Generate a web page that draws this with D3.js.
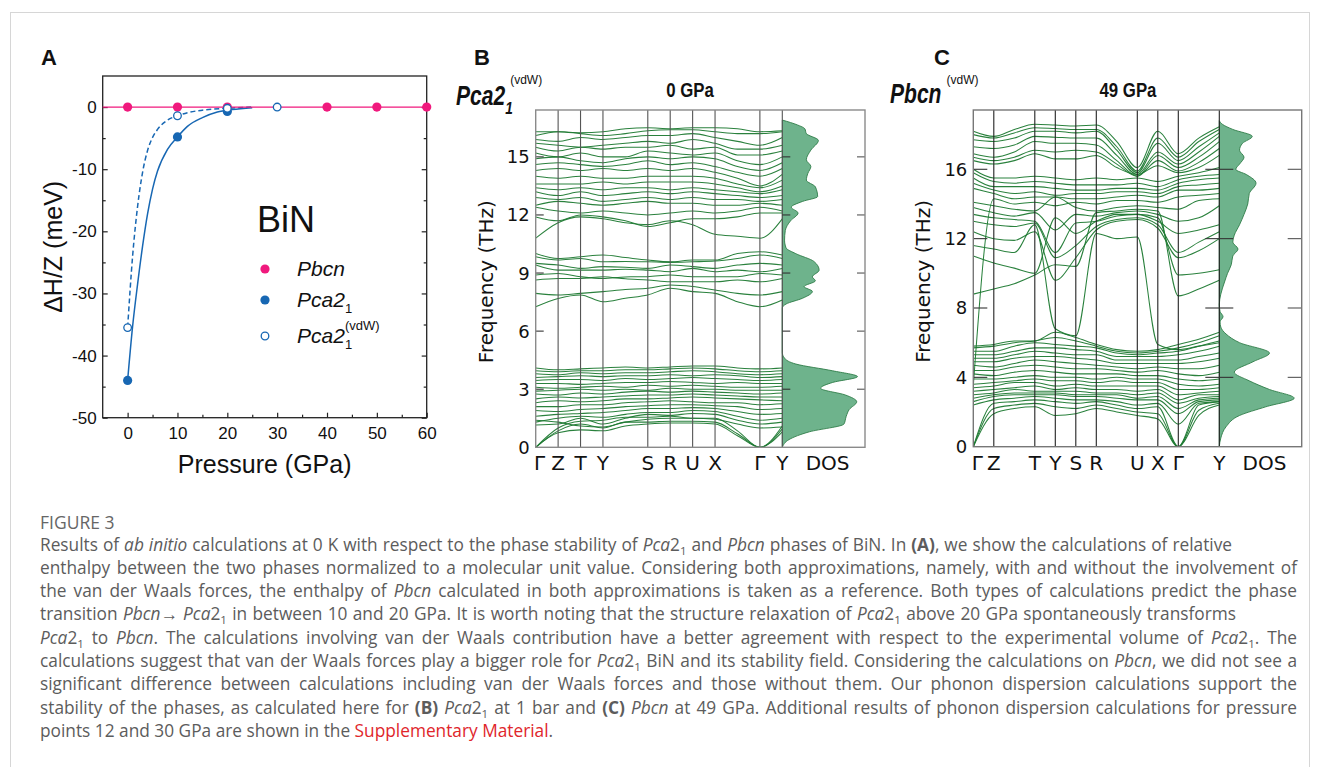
<!DOCTYPE html>
<html>
<head>
<meta charset="utf-8">
<script src="https://cdn.jsdelivr.net/npm/d3@7"></script>
<style>
  body { margin: 0; background: #fff; }
  svg { display: block; }
</style>
</head>
<body>
<div id="fig"></div>
<script>
// ---------- panel A data ----------
var pbcnP = [0, 10, 20, 40, 50, 60];
var pbcnH = [0, 0, 0, 0, 0, 0];
var pbcnLineP = [-5, 60];
var pbcnLineH = [0, 0];
var pcaP = [0, 10, 20];
var pcaH = [-44, -4.8, -0.7];
var vdwP = [0, 10, 20, 30];
var vdwH = [-35.5, -1.4, -0.2, 0];
// fitted curves as drawn in the figure
var fitPcaP = [0, 1, 2, 3, 4, 5, 6, 8, 10, 12, 15, 18, 21, 25];
var fitPcaH = [-44, -35.3, -28.5, -22.4, -17.2, -13.2, -10.3, -6.8, -4.8, -3.1, -1.7, -0.8, -0.4, -0.1];
var fitVdwP = [0, 1, 2, 3, 4, 5, 6, 8, 10, 12, 15, 20, 25];
var fitVdwH = [-35.5, -24, -16, -10.5, -7, -4.9, -3.6, -2.1, -1.4, -0.9, -0.5, -0.2, 0];
var xTicksA = [0, 10, 20, 30, 40, 50, 60];
var yTicksA = [0, -10, -20, -30, -40, -50];

// ---------- panel B data: Pca2_1 (vdW), 0 GPa ----------
var kLabB = ["\u0393", "Z", "T", "Y", "S", "R", "U", "X", "\u0393", "Y"];
var kPosB = [0, 1, 2, 3, 5, 6, 7, 8, 10, 11];
var kSampB = [0, 1, 2, 3, 4, 5, 6, 7, 8, 9, 10, 11];
var bandsB = [
  // acoustic + low optical block
  [0, 0.75, 0.9, 0.85, 1.1, 1.2, 1.25, 1.25, 1.2, 0.6, 0, 0.8],
  [0, 0.85, 1.2, 1.0, 1.3, 1.3, 1.35, 1.35, 1.3, 0.7, 0, 0.95],
  [0, 1.0, 1.35, 1.4, 1.55, 1.55, 1.6, 1.5, 1.5, 0.85, 0, 1.1],
  [1.15, 1.2, 1.5, 1.2, 1.5, 1.7, 1.65, 1.75, 1.7, 1.4, 1.2, 1.3],
  [1.4, 1.3, 1.1, 1.05, 1.3, 1.45, 1.5, 1.5, 1.45, 1.2, 1.0, 1.05],
  [1.3, 1.5, 1.6, 1.55, 1.7, 1.8, 1.8, 1.9, 1.85, 1.6, 1.4, 1.5],
  [1.6, 1.7, 1.75, 1.8, 1.9, 2.0, 2.0, 2.05, 2.0, 1.85, 1.7, 1.75],
  [1.9, 1.85, 1.95, 2.0, 2.1, 2.15, 2.2, 2.2, 2.15, 2.1, 1.95, 2.0],
  [2.1, 2.1, 2.2, 2.2, 2.3, 2.35, 2.4, 2.35, 2.3, 2.3, 2.2, 2.25],
  [2.3, 2.4, 2.35, 2.4, 2.5, 2.5, 2.55, 2.6, 2.55, 2.5, 2.45, 2.4],
  [2.5, 2.6, 2.55, 2.6, 2.65, 2.7, 2.7, 2.75, 2.7, 2.65, 2.6, 2.6],
  [2.75, 2.7, 2.8, 2.75, 2.85, 2.9, 2.85, 2.9, 2.85, 2.8, 2.75, 2.8],
  [2.9, 2.95, 3.0, 2.95, 3.0, 2.95, 3.05, 3.0, 3.0, 2.95, 2.95, 2.95],
  [3.1, 3.05, 3.1, 3.15, 3.1, 3.2, 3.15, 3.2, 3.15, 3.1, 3.1, 3.15],
  [3.3, 3.3, 3.25, 3.3, 3.35, 3.35, 3.4, 3.35, 3.3, 3.35, 3.3, 3.3],
  [3.45, 3.5, 3.5, 3.45, 3.55, 3.5, 3.55, 3.6, 3.55, 3.5, 3.45, 3.5],
  [3.6, 3.65, 3.7, 3.65, 3.7, 3.7, 3.75, 3.7, 3.75, 3.7, 3.6, 3.65],
  [3.8, 3.75, 3.85, 3.8, 3.85, 3.85, 3.9, 3.95, 3.9, 3.8, 3.75, 3.8],
  [3.95, 3.9, 3.95, 3.95, 4.0, 4.0, 4.05, 4.1, 4.05, 3.95, 3.9, 3.95],
  [4.1, 4.0, 4.05, 4.1, 4.15, 4.1, 4.15, 4.2, 4.2, 4.1, 4.05, 4.1],
  // middle block
  [10.01, 9.75, 9.84, 9.93, 9.8, 9.67, 9.58, 9.67, 9.67, 10.01, 10.1, 9.93],
  [9.84, 9.67, 9.75, 9.58, 9.6, 9.58, 9.55, 9.58, 9.62, 9.75, 9.93, 9.75],
  [9.5, 9.41, 9.24, 9.33, 9.3, 9.24, 9.41, 9.33, 9.24, 9.41, 9.5, 9.41],
  [9.41, 9.15, 9.15, 9.15, 9.2, 9.15, 9.07, 9.24, 9.07, 9.15, 9.07, 9.24],
  [8.9, 8.98, 8.81, 8.72, 8.8, 8.81, 8.9, 8.81, 8.81, 8.81, 8.98, 8.9],
  [8.64, 8.72, 8.72, 8.81, 8.7, 8.64, 8.55, 8.55, 8.55, 8.64, 8.55, 8.72],
  [7.95, 7.87, 7.95, 8.04, 8.15, 8.21, 8.38, 8.3, 8.12, 7.95, 7.87, 8.04],
  [7.26, 7.69, 7.87, 7.52, 7.7, 7.87, 8.21, 8.04, 7.95, 7.52, 7.26, 7.61],
  // upper block
  [16.3, 16.3, 16.25, 16.3, 16.45, 16.5, 16.45, 16.5, 16.5, 16.45, 16.3, 16.35],
  [16.1, 16.3, 16.2, 16.1, 16.2, 16.35, 16.4, 16.4, 16.3, 16.2, 16.2, 16.3],
  [15.9, 15.8, 16.0, 15.9, 16.0, 16.1, 16.1, 16.2, 16.0, 15.8, 15.6, 16.0],
  [15.7, 15.6, 15.5, 15.6, 15.7, 15.8, 15.7, 15.9, 15.7, 15.4, 15.4, 15.6],
  [15.5, 15.3, 15.5, 15.4, 15.5, 15.5, 15.6, 15.4, 15.5, 15.1, 15.1, 15.3],
  [15.2, 15.0, 15.2, 15.0, 15.0, 15.3, 15.2, 15.1, 15.2, 14.8, 14.6, 15.0],
  [14.9, 15.0, 14.8, 14.7, 14.9, 15.0, 14.9, 15.0, 14.9, 14.5, 14.3, 14.7],
  [14.6, 14.7, 14.6, 14.5, 14.6, 14.8, 14.6, 14.7, 14.5, 14.2, 14.0, 14.4],
  [14.3, 14.4, 14.3, 14.4, 14.3, 14.4, 14.3, 14.4, 14.2, 13.9, 13.5, 14.1],
  [14.0, 13.9, 14.0, 13.9, 13.9, 14.0, 14.0, 14.0, 13.9, 13.6, 13.4, 13.8],
  [13.6, 13.6, 13.6, 13.7, 13.6, 13.7, 13.7, 13.7, 13.6, 13.4, 13.2, 13.5],
  [13.4, 13.3, 13.4, 13.3, 13.4, 13.4, 13.3, 13.4, 13.3, 13.2, 13.1, 13.3],
  [13.2, 13.0, 13.2, 13.0, 13.1, 13.2, 13.1, 13.2, 13.1, 13.0, 12.9, 13.0],
  [12.9, 12.8, 12.9, 12.7, 12.8, 12.9, 12.8, 12.9, 12.8, 12.8, 12.7, 12.8],
  [12.5, 12.7, 12.6, 12.5, 12.6, 12.7, 12.6, 12.6, 12.5, 12.5, 12.6, 12.5],
  [12.4, 12.2, 12.1, 12.2, 12.1, 12.0, 12.1, 12.2, 12.1, 12.2, 12.4, 12.2],
  [11.9, 11.7, 12.0, 11.9, 11.7, 11.4, 11.6, 11.8, 11.8, 11.9, 12.1, 12.1],
  [10.8, 11.6, 11.9, 11.8, 11.6, 11.5, 11.7, 11.5, 11.0, 10.9, 10.8, 11.8]
];
var dosFB = [0, 0.4, 0.8, 1.2, 1.6, 1.95, 2.35, 2.7, 3.05, 3.35, 3.65, 3.95, 4.3, 4.6, 4.9,
  7.2, 7.4, 7.7, 8.05, 8.3, 8.6, 8.8, 9.15, 9.6, 10.0, 10.3, 10.7, 11.2, 11.7, 12.1, 12.4,
  12.7, 12.95, 13.45, 13.8, 14.15, 14.5, 14.85, 15.35, 15.85, 16.2, 16.45, 16.65, 16.9];
var dosVB = [0, 0.09, 0.36, 0.82, 0.85, 0.89, 0.99, 0.84, 0.51, 0.67, 1.0, 0.67, 0.18, 0.03, 0,
  0, 0.05, 0.27, 0.4, 0.29, 0.44, 0.4, 0.49, 0.42, 0.18, 0.05, 0.03, 0.04, 0.11, 0.21, 0.12,
  0.27, 0.47, 0.44, 0.32, 0.34, 0.38, 0.32, 0.38, 0.48, 0.32, 0.3, 0.2, 0];
var fTicksB = [0, 3, 6, 9, 12, 15];

// ---------- panel C data: Pbcn (vdW), 49 GPa ----------
var kLabC = ["\u0393", "Z", "T", "Y", "S", "R", "U", "X", "\u0393", "Y"];
var kPosC = [0, 1, 3, 4, 5, 6, 8, 9, 10, 12];
var kSampC = [0, 1, 2, 3, 4, 5, 6, 7, 8, 9, 10, 11, 12];
var bandsC = [
  // acoustic + low optical block
  [0, 1.9, 2.2, 2.3, 1.8, 1.9, 2.2, 2.0, 1.8, 1.6, 0, 1.8, 2.4],
  [0, 2.2, 2.4, 2.5, 2.3, 2.2, 2.4, 2.2, 2.0, 1.9, 0, 2.1, 2.5],
  [0, 2.5, 2.6, 2.7, 2.6, 2.5, 2.6, 2.4, 2.2, 2.3, 0, 2.4, 2.6],
  [2.4, 2.7, 2.8, 2.9, 2.8, 2.7, 2.7, 2.6, 2.4, 2.5, 1.3, 2.5, 2.6],
  [2.6, 2.9, 3.0, 3.0, 3.0, 2.9, 2.9, 2.8, 2.7, 2.7, 1.9, 2.6, 2.7],
  [2.8, 3.0, 3.1, 3.1, 3.1, 3.0, 3.0, 3.0, 2.8, 2.9, 2.2, 2.7, 2.8],
  [3.0, 3.1, 3.3, 3.2, 3.2, 3.2, 3.1, 3.1, 3.0, 3.1, 2.5, 2.8, 2.9],
  [3.2, 3.3, 3.4, 3.5, 3.3, 3.4, 3.3, 3.3, 3.2, 3.3, 2.7, 3.0, 3.0],
  [3.4, 3.5, 3.7, 3.7, 3.5, 3.6, 3.5, 3.5, 3.5, 3.5, 3.0, 3.1, 3.2],
  [3.6, 3.7, 3.8, 3.9, 3.8, 3.8, 3.7, 3.8, 3.7, 3.7, 3.3, 3.3, 3.4],
  [3.9, 3.9, 4.0, 4.1, 4.0, 4.0, 3.9, 4.0, 3.9, 3.9, 3.6, 3.5, 3.6],
  [4.2, 4.1, 4.3, 4.4, 4.3, 4.2, 4.2, 4.2, 4.1, 4.1, 3.9, 3.8, 3.9],
  [4.4, 4.4, 4.6, 4.7, 4.6, 4.5, 4.5, 4.4, 4.3, 4.4, 4.2, 4.1, 4.3],
  [4.7, 4.6, 4.8, 5.0, 4.9, 4.8, 4.7, 4.6, 4.5, 4.6, 4.5, 4.5, 4.7],
  [4.9, 4.9, 5.1, 5.2, 5.2, 5.1, 5.0, 4.8, 4.8, 4.8, 4.8, 4.9, 5.1],
  [5.1, 5.1, 5.3, 5.5, 5.4, 5.3, 5.3, 5.0, 5.0, 5.0, 5.0, 5.2, 5.4],
  [5.3, 5.3, 5.5, 5.7, 5.7, 5.6, 5.5, 5.2, 5.2, 5.2, 5.3, 5.5, 5.8],
  [5.5, 5.5, 5.8, 6.0, 5.9, 5.8, 5.7, 5.4, 5.3, 5.4, 5.5, 5.8, 6.1],
  [5.7, 5.8, 6.0, 6.1, 6.3, 6.1, 5.8, 5.5, 5.4, 5.5, 5.7, 6.0, 6.4],
  [5.8, 5.9, 6.1, 6.1, 6.6, 6.3, 5.9, 5.6, 5.5, 5.6, 5.9, 6.2, 6.6],
  // band that dives through the gap
  [11.6, 11.4, 11.2, 12.8, 6.8, 6.4, 12.3, 12.0, 12.1, 5.9, 5.6, 5.8, 6.0],
  // upper block
  [18.2, 17.9, 18.3, 18.6, 18.55, 18.5, 18.55, 17.6, 16.1, 18.2, 16.9, 17.8, 18.45],
  [18.0, 17.8, 18.1, 18.4, 18.35, 18.3, 18.3, 17.3, 15.9, 17.8, 16.7, 17.6, 18.3],
  [17.7, 17.6, 17.8, 18.2, 18.2, 18.1, 18.2, 17.1, 15.8, 17.5, 16.5, 17.3, 18.1],
  [17.3, 17.2, 17.4, 17.9, 17.85, 17.8, 17.8, 16.8, 15.7, 17.0, 16.3, 17.0, 17.9],
  [16.9, 16.7, 17.0, 17.6, 17.5, 17.5, 17.4, 16.5, 15.6, 16.8, 16.1, 16.7, 17.6],
  [16.7, 16.5, 16.7, 17.1, 17.0, 17.1, 17.0, 16.3, 15.6, 16.5, 15.9, 16.4, 17.2],
  [16.5, 16.3, 16.5, 16.9, 16.6, 16.6, 16.8, 16.1, 15.7, 16.2, 15.8, 16.1, 16.8],
  [16.0, 15.5, 15.5, 15.6, 15.5, 15.4, 15.5, 15.4, 15.5, 15.3, 15.6, 15.8, 16.1],
  [15.8, 15.3, 15.2, 15.3, 15.2, 15.1, 15.1, 15.1, 15.2, 15.0, 15.4, 15.6, 15.7],
  [15.5, 15.0, 15.0, 15.0, 14.9, 14.8, 14.8, 14.9, 14.9, 14.8, 15.2, 15.4, 15.5],
  [15.2, 14.8, 14.6, 14.7, 14.5, 14.6, 14.6, 14.7, 14.7, 14.6, 15.0, 15.1, 15.2],
  [14.9, 14.6, 14.3, 14.4, 14.4, 14.3, 14.3, 14.4, 14.5, 14.4, 14.8, 14.8, 14.9],
  [3.5, 14.3, 14.0, 14.1, 13.9, 14.1, 14.0, 14.2, 14.2, 14.1, 14.4, 14.5, 14.6],
  [14.1, 13.9, 13.7, 13.6, 14.4, 13.8, 13.6, 13.8, 13.9, 13.8, 13.7, 14.2, 14.3],
  [13.8, 13.5, 13.3, 13.5, 12.5, 13.4, 13.3, 13.5, 13.6, 13.4, 13.0, 13.2, 13.9],
  [13.4, 13.2, 13.1, 13.0, 11.2, 12.9, 13.0, 13.3, 13.4, 13.0, 12.3, 12.5, 12.8],
  [13.0, 12.8, 12.7, 12.9, 10.9, 11.6, 12.7, 13.1, 13.2, 12.8, 11.2, 11.8, 12.4],
  [12.4, 12.0, 11.9, 12.4, 9.6, 10.9, 12.5, 13.0, 13.1, 12.6, 10.9, 11.3, 12.0],
  [11.0, 10.6, 10.3, 10.0, 13.2, 12.3, 13.0, 13.4, 13.4, 13.2, 9.9, 10.0, 10.2],
  [8.8, 9.1, 9.4, 9.9, 10.5, 10.4, 13.5, 13.6, 13.7, 13.6, 8.7, 9.1, 9.6]
];
var dosFC = [0, 0.5, 1.15, 1.8, 2.3, 2.8, 3.3, 3.8, 4.3, 4.9, 5.4, 6.0, 6.5, 6.9, 7.2, 7.5,
  7.8, 8.2, 8.8, 9.5, 10.0, 10.5, 11.0, 11.4, 11.8, 12.2, 12.8, 13.4, 14.0, 14.6, 15.2,
  15.7, 16.0, 16.3, 16.7, 17.1, 17.5, 17.9, 18.3, 18.6, 18.8];
var dosVC = [0, 0.02, 0.09, 0.27, 0.62, 1.0, 0.67, 0.4, 0.2, 0.45, 0.67, 0.27, 0.09, 0.02, 0.01, 0.05,
  0.01, 0, 0.02, 0.07, 0.11, 0.16, 0.18, 0.25, 0.18, 0.2, 0.27, 0.33, 0.38, 0.4, 0.49,
  0.36, 0.22, 0.27, 0.33, 0.27, 0.31, 0.44, 0.18, 0.04, 0];
var fTicksC = [0, 4, 8, 12, 16];

// ---------- caption ----------
var captionHead = "FIGURE 3";
var captionLines = [
  "Results of <i>ab initio</i> calculations at 0 K with respect to the phase stability of <i>Pca</i>2<s>1</s> and <i>Pbcn</i> phases of BiN. In <b>(A)</b>, we show the calculations of relative",
  "enthalpy between the two phases normalized to a molecular unit value. Considering both approximations, namely, with and without the involvement of",
  "the van der Waals forces, the enthalpy of <i>Pbcn</i> calculated in both approximations is taken as a reference. Both types of calculations predict the phase",
  "transition <i>Pbcn</i>\u2192 <i>Pca</i>2<s>1</s> in between 10 and 20 GPa. It is worth noting that the structure relaxation of <i>Pca</i>2<s>1</s> above 20 GPa spontaneously transforms",
  "<i>Pca</i>2<s>1</s> to <i>Pbcn</i>. The calculations involving van der Waals contribution have a better agreement with respect to the experimental volume of <i>Pca</i>2<s>1</s>. The",
  "calculations suggest that van der Waals forces play a bigger role for <i>Pca</i>2<s>1</s> BiN and its stability field. Considering the calculations on <i>Pbcn</i>, we did not see a",
  "significant difference between calculations including van der Waals forces and those without them. Our phonon dispersion calculations support the",
  "stability of the phases, as calculated here for <b>(B)</b> <i>Pca</i>2<s>1</s> at 1 bar and <b>(C)</b> <i>Pbcn</i> at 49 GPa. Additional results of phonon dispersion calculations for pressure",
  "points 12 and 30 GPa are shown in the <r>Supplementary Material</r>."
];
var captionEnds = [1232, 1297, 1297, 1236, 1297, 1297, 1297, 1297, 0];

// ---------- drawing ----------
var W = 1320, H = 767;
var svg = d3.select("#fig").append("svg").attr("width", W).attr("height", H);
svg.append("rect").attr("width", W).attr("height", H).attr("fill", "#fff");
svg.append("rect").attr("x", 10.5).attr("y", 12.5).attr("width", 1299).attr("height", 800)
  .attr("fill", "none").attr("stroke", "#d6d6d6");

var arial = "'Liberation Sans', Arial, sans-serif";
var dejavu = "'DejaVu Sans', sans-serif";
var pink = "#f0197d", blue = "#1767b3";

// condensed bold text: squeeze horizontally, returns drawn width
function squeezed(g, x, y, str, size, sx, italic, anchorMid) {
  var t = g.append("text").attr("font-family", arial).attr("font-weight", "bold")
    .attr("font-size", size).attr("fill", "#111").text(str);
  if (italic) t.attr("font-style", "italic");
  var w = t.node().getComputedTextLength() * sx;
  var x0 = anchorMid ? x - w / 2 : x;
  t.attr("transform", "translate(" + x0 + "," + y + ") scale(" + sx + ",1)");
  return w;
}

// ===== Panel A =====
var xA = d3.scaleLinear().domain([-5, 60]).range([102.7, 426.7]);
var yA = d3.scaleLinear().domain([-50, 5]).range([417.7, 76]);
var gA = svg.append("g");
var numFmt = function (d) { return String(d); };

gA.append("text").attr("x", 41).attr("y", 65).attr("font-family", arial).attr("font-weight", "bold")
  .attr("font-size", 22).attr("fill", "#111").text("A");

// axes with inward ticks
gA.append("g").attr("transform", "translate(0," + yA(-50) + ")")
  .call(d3.axisBottom(xA).tickValues(xTicksA).tickSize(-5).tickPadding(9).tickFormat(numFmt));
gA.append("g").attr("transform", "translate(0," + yA(-50) + ")")
  .call(d3.axisBottom(xA).tickValues(xTicksA.map(function (d) { return d + 5; }).filter(function (d) { return d < 60; })).tickSize(-3).tickFormat(""));
gA.append("g").attr("transform", "translate(" + xA(-5) + ",0)")
  .call(d3.axisLeft(yA).tickValues(yTicksA).tickSize(-5).tickPadding(6).tickFormat(numFmt));
gA.append("g").attr("transform", "translate(" + xA(-5) + ",0)")
  .call(d3.axisLeft(yA).tickValues([-5, -15, -25, -35, -45]).tickSize(-3).tickFormat(""));
gA.append("g").attr("transform", "translate(" + xA(60) + ",0)")
  .call(d3.axisRight(yA).tickValues(yTicksA).tickSize(-5).tickFormat(""));
gA.append("g").attr("transform", "translate(" + xA(60) + ",0)")
  .call(d3.axisRight(yA).tickValues([-5, -15, -25, -35, -45]).tickSize(-3).tickFormat(""));
gA.selectAll(".domain").remove();
gA.selectAll(".tick line").attr("stroke", "#222").attr("stroke-width", 1.2);
gA.selectAll(".tick text").attr("font-family", arial).attr("font-size", 17).attr("fill", "#111");

gA.append("rect").attr("x", xA(-5)).attr("y", yA(5)).attr("width", xA(60) - xA(-5))
  .attr("height", yA(-50) - yA(5)).attr("fill", "none").attr("stroke", "#222").attr("stroke-width", 1.3);

gA.append("text").attr("x", (xA(-5) + xA(60)) / 2).attr("y", 473).attr("text-anchor", "middle")
  .attr("font-family", arial).attr("font-size", 25).attr("fill", "#111").text("Pressure (GPa)");
gA.append("text").attr("transform", "translate(62," + yA(-22.5) + ") rotate(-90)").attr("text-anchor", "middle")
  .attr("font-family", arial).attr("font-size", 25).attr("fill", "#111").text("\u0394H/Z (meV)");

var lineA = d3.line().curve(d3.curveMonotoneX).x(function (d) { return xA(d[0]); }).y(function (d) { return yA(d[1]); });
gA.append("path").datum(fitPcaP.map(function (p, i) { return [p, fitPcaH[i]]; })).attr("d", lineA)
  .attr("fill", "none").attr("stroke", blue).attr("stroke-width", 1.5);
gA.append("path").datum(fitVdwP.map(function (p, i) { return [p, fitVdwH[i]]; })).attr("d", lineA)
  .attr("fill", "none").attr("stroke", blue).attr("stroke-width", 1.5).attr("stroke-dasharray", "5,3");
gA.append("path").datum(pbcnLineP.map(function (p, i) { return [p, pbcnLineH[i]]; })).attr("d", lineA)
  .attr("fill", "none").attr("stroke", pink).attr("stroke-width", 1.3);

gA.selectAll("circle.pbcn").data(pbcnP).enter().append("circle").attr("class", "pbcn")
  .attr("cx", function (d) { return xA(d); }).attr("cy", function (d, i) { return yA(pbcnH[i]); })
  .attr("r", 4.6).attr("fill", pink);
gA.selectAll("circle.pca").data(pcaP).enter().append("circle").attr("class", "pca")
  .attr("cx", function (d) { return xA(d); }).attr("cy", function (d, i) { return yA(pcaH[i]); })
  .attr("r", 4.6).attr("fill", blue);
gA.selectAll("circle.vdw").data(vdwP).enter().append("circle").attr("class", "vdw")
  .attr("cx", function (d) { return xA(d); }).attr("cy", function (d, i) { return yA(vdwH[i]); })
  .attr("r", 3.8).attr("fill", "#fff").attr("stroke", blue).attr("stroke-width", 1.3);

// legend
gA.append("text").attr("x", 257).attr("y", 232).attr("font-family", arial).attr("font-size", 36)
  .attr("fill", "#111").text("BiN");
var legY = [269, 300, 336];
gA.append("circle").attr("cx", 265).attr("cy", legY[0]).attr("r", 4.6).attr("fill", pink);
gA.append("circle").attr("cx", 265).attr("cy", legY[1]).attr("r", 4.6).attr("fill", blue);
gA.append("circle").attr("cx", 265).attr("cy", legY[2]).attr("r", 3.8).attr("fill", "#fff").attr("stroke", blue).attr("stroke-width", 1.3);
function legText(y, main, sub, sup) {
  var t = gA.append("text").attr("x", 297).attr("y", y + 7).attr("font-family", arial).attr("font-size", 21).attr("fill", "#111");
  t.append("tspan").attr("font-style", "italic").text(main);
  if (sub) {
    var sx = 297 + t.node().getComputedTextLength();
    gA.append("text").attr("x", sx).attr("y", y + 13).attr("font-family", arial).attr("font-size", 13).attr("fill", "#111").text(sub);
    if (sup) gA.append("text").attr("x", sx).attr("y", y - 6).attr("font-family", arial).attr("font-size", 13).attr("fill", "#111").text(sup);
  }
}
legText(legY[0], "Pbcn");
legText(legY[1], "Pca2", "1");
legText(legY[2], "Pca2", "1", "(vdW)");

// ===== Phonon panels =====
function drawPhonon(o) {
  var g = svg.append("g");
  var x = d3.scaleLinear().domain([0, o.kMax]).range([o.left, o.sep]);
  var y = d3.scaleLinear().domain([0, o.fMax]).range([o.bottom, o.top]);
  var xd = d3.scaleLinear().domain([0, 1.1]).range([o.sep, o.right]);

  var clipId = "clip" + o.id;
  g.append("clipPath").attr("id", clipId).append("rect")
    .attr("x", o.left).attr("y", o.top).attr("width", o.sep - o.left).attr("height", o.bottom - o.top);

  // DOS
  var dos = o.dosF.map(function (f, i) { return [f, o.dosV[i]]; });
  g.append("path").datum(dos)
    .attr("d", d3.area().curve(d3.curveMonotoneY).y(function (d) { return y(d[0]); })
      .x0(xd(0)).x1(function (d) { return xd(d[1]); }))
    .attr("fill", "#6eb38c").attr("stroke", "#2f7d48").attr("stroke-width", 0.9);

  // dispersion
  var line = d3.line().curve(d3.curveMonotoneX)
    .x(function (d, i) { return x(o.kSamp[i]); }).y(function (d) { return y(d); });
  g.append("g").attr("clip-path", "url(#" + clipId + ")").selectAll("path").data(o.bands).enter().append("path")
    .attr("d", line).attr("fill", "none").attr("stroke", "#1f7a33").attr("stroke-width", 1.05).attr("stroke-opacity", 0.95);

  // high-symmetry lines
  g.selectAll("line.kv").data(o.kPos.slice(1, -1)).enter().append("line").attr("class", "kv")
    .attr("x1", function (d) { return x(d); }).attr("x2", function (d) { return x(d); })
    .attr("y1", o.top).attr("y2", o.bottom).attr("stroke", o.vColor).attr("stroke-width", 1.1);
  g.append("line").attr("x1", o.sep).attr("x2", o.sep).attr("y1", o.top).attr("y2", o.bottom)
    .attr("stroke", o.vColor).attr("stroke-width", 1.1);

  // ticks
  var tk = o.ticks.filter(function (d) { return d > 0; });
  g.selectAll("line.tl").data(tk).enter().append("line")
    .attr("x1", o.left).attr("x2", o.left + o.tickLen)
    .attr("y1", function (d) { return y(d); }).attr("y2", function (d) { return y(d); })
    .attr("stroke", "#333").attr("stroke-width", 1.1);
  g.selectAll("line.ts").data(tk).enter().append("line")
    .attr("x1", o.sep - o.sepTickL).attr("x2", o.sep + o.tickLen)
    .attr("y1", function (d) { return y(d); }).attr("y2", function (d) { return y(d); })
    .attr("stroke", "#333").attr("stroke-width", 1.1);
  g.selectAll("line.tr").data(tk).enter().append("line")
    .attr("x1", o.right - o.tickLen).attr("x2", o.right)
    .attr("y1", function (d) { return y(d); }).attr("y2", function (d) { return y(d); })
    .attr("stroke", "#555").attr("stroke-width", 1.1);

  // frame
  g.append("rect").attr("x", o.left).attr("y", o.top).attr("width", o.right - o.left)
    .attr("height", o.bottom - o.top).attr("fill", "none").attr("stroke", o.frameColor).attr("stroke-width", 1.4);

  // tick labels
  g.selectAll("text.fl").data(o.ticks).enter().append("text")
    .attr("x", o.left - 6).attr("y", function (d) { return y(d); }).attr("dy", "0.36em")
    .attr("text-anchor", "end").attr("font-family", dejavu).attr("font-size", 18).attr("fill", "#111")
    .text(function (d) { return d; });
  g.selectAll("text.kl").data(o.kLab).enter().append("text")
    .attr("x", function (d, i) { return x(o.kPos[i]) + (i === 0 ? 4 : 0); }).attr("y", 470)
    .attr("text-anchor", "middle").attr("font-family", dejavu).attr("font-size", 20).attr("fill", "#111")
    .text(function (d) { return d; });
  g.append("text").attr("x", (o.sep + o.right) / 2 + 4).attr("y", 470).attr("text-anchor", "middle")
    .attr("font-family", dejavu).attr("font-size", 20).attr("fill", "#111").text("DOS");

  g.append("text").attr("transform", "translate(" + o.ylabX + "," + ((o.top + o.bottom) / 2 + 3) + ") rotate(-90)")
    .attr("text-anchor", "middle").attr("font-family", dejavu).attr("font-size", 20).attr("fill", "#111")
    .text("Frequency (THz)");

  // titles
  squeezed(g, o.titleX, 97, o.title, 21, 0.8, false, true);
  var pw = squeezed(g, o.phaseX, o.phaseY, o.phase, 27, 0.78, true, false);
  if (o.phaseSub) squeezed(g, o.phaseX + pw, o.phaseY + 9, o.phaseSub, 16, 0.85, true, false);
  g.append("text").attr("x", o.phaseX + pw + 5).attr("y", 84).attr("font-family", arial)
    .attr("font-size", 12).attr("fill", "#111").text("(vdW)");
  g.append("text").attr("x", o.labX).attr("y", 65).attr("font-family", arial).attr("font-weight", "bold")
    .attr("font-size", 22).attr("fill", "#111").text(o.label);
}

drawPhonon({
  id: "B", left: 535.7, sep: 782.3, right: 865, top: 110, bottom: 447.3,
  kMax: 11, fMax: 17.42, kPos: kPosB, kLab: kLabB, kSamp: kSampB, bands: bandsB,
  dosF: dosFB, dosV: dosVB, ticks: fTicksB, tickLen: 8, sepTickL: 0,
  vColor: "#555", frameColor: "#8a8a8a", ylabX: 493,
  title: "0 GPa", titleX: 690, phase: "Pca2", phaseSub: "1", phaseX: 456, phaseY: 105,
  label: "B", labX: 474
});
drawPhonon({
  id: "C", left: 973.3, sep: 1219.3, right: 1301.7, top: 110, bottom: 446.7,
  kMax: 12, fMax: 19.42, kPos: kPosC, kLab: kLabC, kSamp: kSampC, bands: bandsC,
  dosF: dosFC, dosV: dosVC, ticks: fTicksC, tickLen: 14, sepTickL: 14,
  vColor: "#222", frameColor: "#777", ylabX: 930,
  title: "49 GPa", titleX: 1128, phase: "Pbcn", phaseSub: null, phaseX: 890, phaseY: 103,
  label: "C", labX: 934
});

// ===== Caption =====
var capFont = "'Open Sans', sans-serif";
svg.append("text").attr("x", 40).attr("y", 529).attr("font-family", capFont).attr("font-size", 17.5)
  .attr("fill", "#666").text(captionHead);

captionLines.forEach(function (ln, li) {
  var t = svg.append("text").attr("x", 40).attr("y", 550.5 + li * 23.3)
    .attr("font-family", capFont).attr("font-size", 17.3).attr("fill", "#5c5c5c");
  var parts = ln.split(/(<\/?[ibsr]>)/);
  var st = { i: false, b: false, s: false, r: false };
  var back = 0, plain = "";
  parts.forEach(function (p) {
    var m = p.match(/^<(\/?)([ibsr])>$/);
    if (m) { st[m[2]] = !m[1]; return; }
    if (!p) return;
    plain += p;
    var ts = t.append("tspan").text(p);
    if (st.i) ts.attr("font-style", "italic");
    if (st.b) ts.attr("font-weight", "bold");
    if (st.r) ts.attr("fill", "#e0262b");
    if (st.s) { ts.attr("dy", 4).attr("font-size", 11.5); back = -4; }
    else if (back) { ts.attr("dy", back); back = 0; }
  });
  if (captionEnds[li]) {
    var len = t.node().getComputedTextLength();
    var n = (plain.match(/ /g) || []).length;
    t.attr("word-spacing", ((captionEnds[li] - 40) - len) / n);
  }
});
</script>
</body>
</html>
